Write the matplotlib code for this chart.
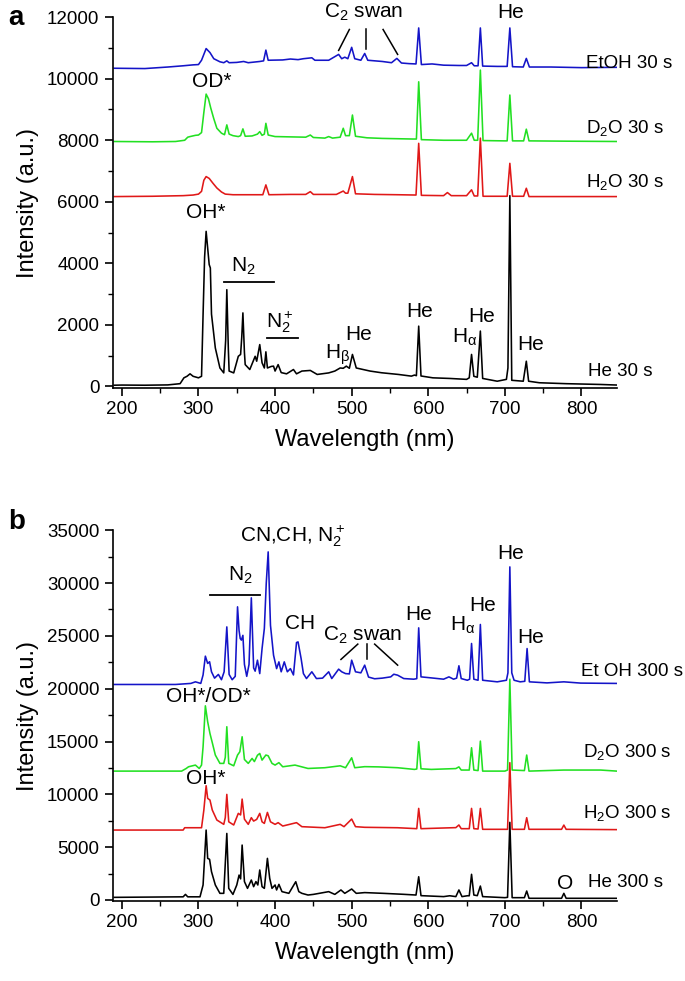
import matplotlib
matplotlib.use("Agg")
import matplotlib.pyplot as plt
from matplotlib.ticker import MultipleLocator

plt.rcParams['font.family'] = ['Liberation Sans', 'DejaVu Sans']
plt.rcParams['mathtext.fontset'] = 'custom'
plt.rcParams['mathtext.rm'] = 'Liberation Sans'
plt.rcParams['mathtext.it'] = 'Liberation Sans:italic'

# ---------------- panel a: 30 s spectra ----------------
etoh30_x = [190, 230, 260, 280, 293, 300, 304, 310, 315, 320, 328, 333, 337, 340, 350, 359, 365, 380, 385, 388, 391,
            410, 420, 430, 437, 448, 452, 470, 483, 487, 491, 495, 500, 504, 512, 517, 521, 540, 552, 559, 565, 575,
            584, 587.5, 591, 605, 620, 640, 650, 656.5, 660, 665, 668, 671, 690, 703, 706.5, 710, 724, 728, 732, 760,
            800, 847]
etoh30_y = [10340, 10330, 10380, 10420, 10450, 10460, 10600, 10980, 10850, 10650, 10550, 10520, 10580, 10520, 10530,
            10560, 10520, 10560, 10580, 10930, 10600, 10610, 10640, 10620, 10650, 10680, 10600, 10600, 10790, 10650,
            10700, 10650, 11020, 10650, 10600, 10820, 10600, 10560, 10520, 10660, 10510, 10490, 10480, 11650, 10460,
            10480, 10440, 10430, 10430, 10520, 10420, 10420, 11650, 10410, 10400, 10400, 11650, 10390, 10380, 10660,
            10380, 10380, 10360, 10370]

d2o30_x = [190, 240, 270, 282, 286, 289, 296, 300, 304, 307, 310, 313, 316, 320, 324, 330, 334, 337, 340, 345, 352,
           355, 358, 361, 370, 377, 380, 383, 386, 388, 391, 400, 420, 440, 446, 450, 465, 470, 475, 485, 489, 492,
           497, 501, 505, 520, 540, 560, 580, 584.5, 587.5, 591, 620, 650, 656.5, 660, 664.5, 668, 671.5, 700, 703,
           706.5, 710, 724.5, 728, 731.5, 780, 847]
d2o30_y = [7960, 7950, 7960, 8000, 8100, 8120, 8160, 8170, 8250, 8900, 9500, 9350, 9050, 8700, 8390, 8230, 8180,
           8500, 8200, 8150, 8120, 8150, 8370, 8130, 8140, 8200, 8280, 8160, 8200, 8550, 8170, 8120, 8110, 8100,
           8170, 8090, 8070, 8120, 8070, 8100, 8390, 8150, 8150, 8820, 8130, 8080, 8060, 8050, 8040, 8040, 9900,
           8020, 8000, 8000, 8230, 8000, 8000, 10280, 7990, 7980, 7980, 9470, 7980, 7980, 8360, 7980, 7970, 7960]

h2o30_x = [190, 240, 280, 293, 300, 304, 307, 310, 314, 319, 324, 330, 335, 345, 360, 384, 388, 392, 420, 440, 446,
           450, 480, 489, 492, 495, 501, 505, 530, 560, 584, 587.5, 591, 620, 625, 630, 650, 656.5, 660, 664.5, 668,
           671.5, 700, 703, 706.5, 710, 724.5, 728, 731.5, 780, 847]
h2o30_y = [6170, 6180, 6200, 6220, 6250, 6340, 6700, 6820, 6760, 6600, 6450, 6320, 6250, 6230, 6230, 6230, 6550,
           6230, 6240, 6240, 6330, 6240, 6240, 6350, 6280, 6280, 6820, 6260, 6240, 6230, 6220, 7900, 6210, 6200,
           6300, 6200, 6200, 6390, 6190, 6190, 8070, 6180, 6180, 6180, 7250, 6180, 6180, 6440, 6170, 6170, 6170]

he30_x = [190, 200, 230, 260, 276, 281, 285, 289, 293, 300, 304, 306, 308, 310, 312, 314, 315.5, 317, 322, 328, 333,
          335.5, 337, 339, 340, 346, 352, 355, 356.5, 358, 360, 361, 367, 374, 376, 380, 383, 386, 388, 390, 395,
          398, 400, 404, 408, 415, 424, 428, 435, 446, 455, 470, 478, 485, 489, 493, 497, 501, 506, 515, 524, 539,
          561, 578, 582, 584.5, 587.5, 590.5, 606, 628, 650, 653.5, 656.5, 659.5, 664, 668, 671, 690, 702, 704,
          706.5, 709, 724, 728, 731, 745, 780, 824, 847]
he30_y = [40, 45, 40, 50, 90, 280, 330, 410, 330, 280, 330, 2330, 4200, 5040, 4500, 3960, 3850, 2350, 1250, 600, 440,
          1500, 3145, 1200, 500, 440, 980, 1040, 1600, 2390, 1100, 710, 550, 980, 820, 1360, 770, 600, 1125, 600,
          650, 660, 500, 710, 450, 410, 550, 410, 500, 520, 390, 440, 500, 600, 590, 660, 590, 1040, 600, 550, 500,
          445, 390, 335, 370, 350, 1960, 340, 280, 260, 230, 280, 1040, 330, 300, 1800, 260, 170, 230, 600, 6200,
          200, 170, 820, 170, 120, 90, 65, 45]

# ---------------- panel b: 300 s spectra ----------------
etoh300_x = [190, 270, 290, 296, 303, 306, 309, 312, 314.5, 317, 321, 326, 330, 333.5, 337, 340, 344, 348, 351, 353,
             354.5, 356, 358, 360, 363, 366, 369, 372, 374, 377, 380, 383, 386, 388.5, 391, 394, 398, 402, 405, 408,
             412, 416, 420, 424, 428, 430, 434, 437, 441, 448, 454, 462, 470, 474, 483, 487, 492, 497, 500, 505, 512,
             517, 522, 530, 540, 551, 555, 560, 568, 581, 585, 587.5, 590.5, 603, 620, 627, 633, 637, 640, 643, 651,
             654, 656.5, 659.5, 665, 668, 671, 690, 702, 704, 706.5, 709, 712, 720, 726, 729, 732, 755, 777, 799, 846]
etoh300_y = [20400, 20400, 20500, 20650, 20500, 21300, 23080, 22390, 22550, 21600, 21000, 21350, 20850, 21600, 25850,
             21350, 20850, 21170, 27750, 25500, 24750, 24600, 25050, 22300, 21170, 22300, 28600, 21970, 21660, 22700,
             21430, 23790, 25700, 30000, 32950, 26000, 23170, 21900, 22540, 21600, 22540, 21600, 21900, 21300, 24370,
             24430, 22850, 21430, 20960, 21600, 20960, 21000, 21600, 20960, 21850, 21600, 21430, 21400, 22700, 21600,
             21500, 22230, 21100, 20940, 21000, 21120, 21370, 21280, 20960, 20900, 20950, 25760, 21120, 21030, 20900,
             21120, 20900, 21000, 22170, 20960, 20800, 20900, 24280, 20900, 20800, 26080, 20800, 20650, 20800, 21500,
             31530, 21500, 20800, 20650, 20700, 23800, 20650, 20550, 20650, 20530, 20500]

d2o300_x = [190, 278, 284, 287, 296, 301, 304, 306, 309, 312, 315, 318, 322, 328, 333, 335, 337, 339.5, 346, 351, 354,
            357, 360, 365, 370, 373, 377, 380, 383, 388, 391, 396, 400, 405, 410, 426, 443, 465, 485, 492, 500, 504,
            517, 535, 560, 582, 585, 587.5, 590.5, 604, 636, 640, 643, 653.5, 656.5, 659.5, 665, 668, 671, 700, 703.5,
            706.5, 709.5, 725.5, 728.5, 731.5, 777, 825, 846]
d2o300_y = [12200, 12200, 12450, 12610, 12770, 12450, 12770, 14500, 18380, 16870, 15760, 14900, 13720, 12930, 12930,
            13500, 16400, 12930, 12700, 13720, 14030, 15450, 13300, 12930, 13400, 13100, 13700, 13870, 13240, 13720,
            13650, 12930, 12770, 13000, 12610, 12770, 12450, 12520, 12700, 12520, 13460, 12520, 12620, 12600, 12520,
            12360, 12400, 14980, 12420, 12360, 12440, 12600, 12300, 12300, 14410, 12300, 12250, 15040, 12200, 12200,
            12300, 20900, 12300, 12250, 13720, 12200, 12300, 12300, 12200]

h2o300_x = [190, 280, 282, 304, 307, 310, 312, 315, 318, 324, 333, 335, 337, 339.5, 346, 352, 355, 357, 360, 365, 369,
            372, 376, 380, 383, 386, 390, 394, 400, 404, 410, 428, 435, 465, 485, 490, 500, 505, 517, 560, 585, 587.5,
            590.5, 636, 640, 643, 653.5, 656.5, 659.5, 665, 668, 671, 703.5, 706.5, 709.5, 725.5, 728.5, 731.5, 774,
            777, 780, 846]
h2o300_y = [6620, 6620, 6840, 6840, 8500, 10815, 9620, 9460, 8520, 7570, 7160, 7800, 9995, 7400, 7100, 8200, 8050,
            9550, 7650, 7160, 7790, 7470, 7630, 8200, 7400, 7250, 8290, 7400, 7160, 7320, 7000, 7320, 6940, 6840, 7160,
            6940, 7660, 6940, 6880, 6840, 6750, 8670, 6750, 6850, 7100, 6750, 6750, 8670, 6750, 6720, 8670, 6690,
            6690, 13000, 6690, 6690, 7790, 6690, 6690, 7090, 6690, 6660]

he300_x = [190, 280, 283, 286, 302, 306, 310, 312, 314.5, 317, 322, 328, 333, 337, 339.5, 345, 350, 353, 355, 357,
           360, 364, 369, 372, 375, 377.5, 380, 383, 386, 390, 393, 396, 400, 402, 405, 409, 418, 427, 431, 435, 443,
           450, 470, 478, 486, 491, 500, 506, 517, 541, 567, 584, 587.5, 590.5, 620, 628, 636, 640, 644, 651, 653.5,
           656.5, 659.5, 664, 668, 671, 700, 703.5, 706.5, 709.5, 725.5, 728.5, 731.5, 774, 777, 780, 846]
he300_y = [250, 300, 530, 300, 300, 1420, 6620, 3940, 3850, 2680, 1420, 630, 630, 6300, 1100, 530, 1420, 2360, 2000,
           5200, 1740, 1100, 1890, 1260, 1740, 1420, 2840, 1260, 1100, 3940, 2050, 1100, 1420, 950, 1480, 790, 630,
           1730, 790, 630, 470, 530, 790, 530, 950, 630, 1040, 630, 700, 630, 540, 470, 2200, 410, 320, 400, 320, 950,
           320, 400, 400, 2430, 470, 410, 1320, 320, 220, 250, 7350, 220, 220, 850, 160, 160, 630, 160, 160]

blue = '#1414c8'
green = '#22e022'
red = '#e01818'

fig = plt.figure(figsize=(6.85, 9.81), dpi=100)
ax1 = fig.add_axes([0.1645, 0.6045, 0.7358, 0.378])
ax2 = fig.add_axes([0.1645, 0.0815, 0.7358, 0.378])

lw = 1.15
ax1.plot(etoh30_x, etoh30_y, color=blue, lw=lw)
ax1.plot(d2o30_x, d2o30_y, color=green, lw=lw)
ax1.plot(h2o30_x, h2o30_y, color=red, lw=lw)
ax1.plot(he30_x, he30_y, color='black', lw=lw)

ax2.plot(etoh300_x, etoh300_y, color=blue, lw=lw)
ax2.plot(d2o300_x, d2o300_y, color=green, lw=lw)
ax2.plot(h2o300_x, h2o300_y, color=red, lw=lw)
ax2.plot(he300_x, he300_y, color='black', lw=lw)

for ax in (ax1, ax2):
    ax.set_xlim(188, 846)
    ax.xaxis.set_major_locator(MultipleLocator(100))
    ax.xaxis.set_minor_locator(MultipleLocator(50))
    ax.spines['top'].set_visible(False)
    ax.spines['right'].set_visible(False)
    ax.spines['left'].set_linewidth(1.2)
    ax.spines['bottom'].set_linewidth(1.2)
    ax.tick_params(which='major', direction='out', length=6, width=1.2, labelsize=13.5)
    ax.tick_params(which='minor', direction='out', length=3.5, width=1.0)
    ax.set_xlabel('Wavelength (nm)', fontsize=17, labelpad=8)
    ax.set_ylabel('Intensity (a.u.)', fontsize=17, labelpad=6)

ax1.set_ylim(-50, 12000)
ax1.yaxis.set_major_locator(MultipleLocator(2000))
ax1.yaxis.set_minor_locator(MultipleLocator(1000))
ax2.set_ylim(-100, 35000)
ax2.yaxis.set_major_locator(MultipleLocator(5000))
ax2.yaxis.set_minor_locator(MultipleLocator(2500))

fs = 15
lab = 13.5
h_alpha = r'H$_{\mathrm{α}}$'
h_beta = r'H$_{\mathrm{β}}$'
# panel a annotations
ax1.text(515, 12150, r'C$_2$ swan', fontsize=fs, ha='center', va='center')
ax1.plot([497, 483], [11600, 10920], color='black', lw=1.1, clip_on=False)
ax1.plot([519, 519], [11600, 10980], color='black', lw=1.1, clip_on=False)
ax1.plot([541, 560], [11600, 10790], color='black', lw=1.1, clip_on=False)
ax1.text(707, 12150, 'He', fontsize=fs, ha='center', va='center')
ax1.text(317, 9900, 'OD*', fontsize=fs, ha='center', va='center')
ax1.text(310, 5640, 'OH*', fontsize=fs, ha='center', va='center')
ax1.text(359, 3890, r'N$_2$', fontsize=fs, ha='center', va='center')
ax1.plot([333, 399], [3380, 3380], color='black', lw=1.3)
ax1.text(406, 2075, r'N$_2^+$', fontsize=fs, ha='center', va='center')
ax1.plot([389, 430], [1580, 1580], color='black', lw=1.3)
ax1.text(482, 1040, h_beta, fontsize=fs, ha='center', va='center')
ax1.text(509, 1690, 'He', fontsize=fs, ha='center', va='center')
ax1.text(589, 2440, 'He', fontsize=fs, ha='center', va='center')
ax1.text(647, 1580, h_alpha, fontsize=fs, ha='center', va='center')
ax1.text(670, 2280, 'He', fontsize=fs, ha='center', va='center')
ax1.text(733, 1360, 'He', fontsize=fs, ha='center', va='center')
ax1.text(806, 10500, 'EtOH 30 s', fontsize=lab, ha='left', va='center')
ax1.text(806, 8400, r'D$_2$O 30 s', fontsize=lab, ha='left', va='center')
ax1.text(806, 6650, r'H$_2$O 30 s', fontsize=lab, ha='left', va='center')
ax1.text(808, 490, 'He 30 s', fontsize=lab, ha='left', va='center')

# panel b annotations
ax2.text(354, 34400, r'CN,CH, N$_2^+$', fontsize=fs, ha='left', va='center')
ax2.text(354, 30740, r'N$_2$', fontsize=fs, ha='center', va='center')
ax2.plot([315, 380], [28900, 28900], color='black', lw=1.3)
ax2.text(432, 26170, 'CH', fontsize=fs, ha='center', va='center')
ax2.text(514, 25070, r'C$_2$ swan', fontsize=fs, ha='center', va='center')
ax2.plot([508, 486], [24220, 22770], color='black', lw=1.1)
ax2.plot([520, 520], [24220, 22770], color='black', lw=1.1)
ax2.plot([530, 560], [24220, 22230], color='black', lw=1.1)
ax2.text(588, 27020, 'He', fontsize=fs, ha='center', va='center')
ax2.text(645, 26010, h_alpha, fontsize=fs, ha='center', va='center')
ax2.text(671, 27900, 'He', fontsize=fs, ha='center', va='center')
ax2.text(708, 32790, 'He', fontsize=fs, ha='center', va='center')
ax2.text(734, 24810, 'He', fontsize=fs, ha='center', va='center')
ax2.text(313, 19230, 'OH*/OD*', fontsize=fs, ha='center', va='center')
ax2.text(310, 11500, 'OH*', fontsize=fs, ha='center', va='center')
ax2.text(779, 1600, 'O', fontsize=fs, ha='center', va='center')
ax2.text(800, 21600, 'Et OH 300 s', fontsize=lab, ha='left', va='center')
ax2.text(802, 14050, r'D$_2$O 300 s', fontsize=lab, ha='left', va='center')
ax2.text(802, 8260, r'H$_2$O 300 s', fontsize=lab, ha='left', va='center')
ax2.text(808, 1700, 'He 300 s', fontsize=lab, ha='left', va='center')

fig.text(0.012, 0.982, 'a', fontsize=20, fontweight='bold', ha='left', va='center')
fig.text(0.012, 0.468, 'b', fontsize=20, fontweight='bold', ha='left', va='center')

fig.savefig('out.png', dpi=100)
